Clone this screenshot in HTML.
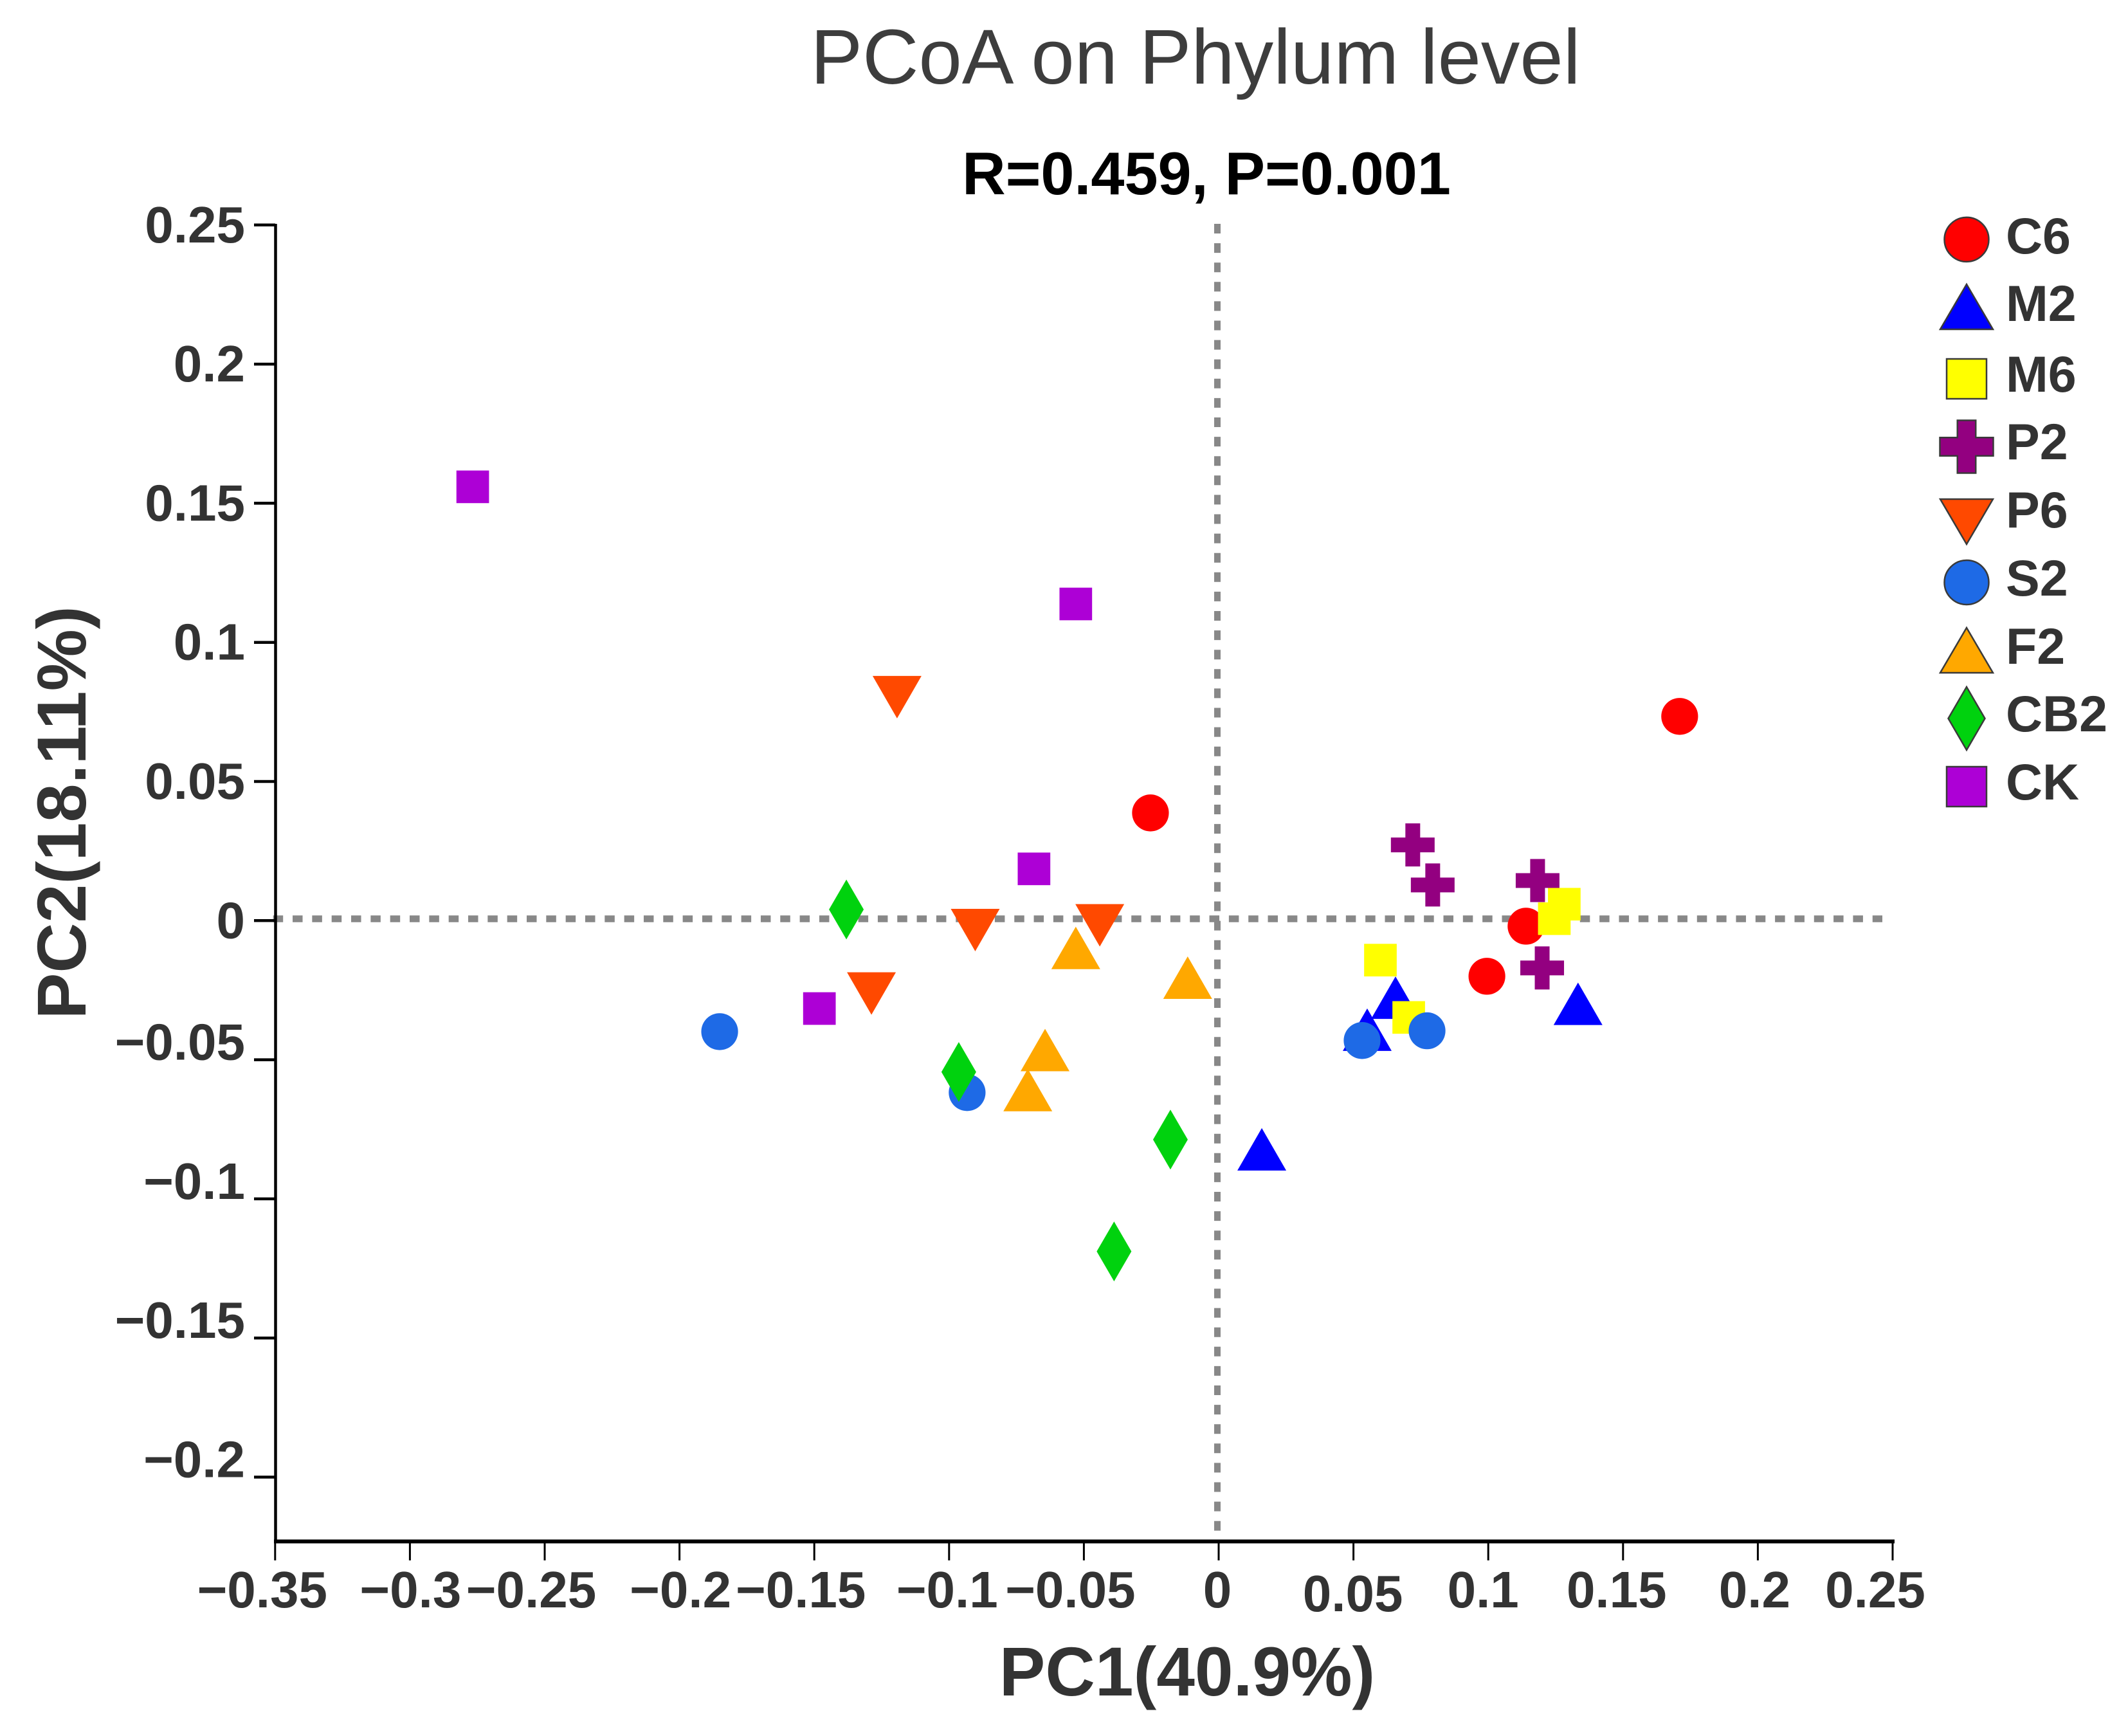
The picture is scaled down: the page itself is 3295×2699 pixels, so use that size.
<!DOCTYPE html>
<html lang="en">
<head>
<meta charset="utf-8">
<title>PCoA on Phylum level</title>
<style>
html,body{margin:0;padding:0;background:#fff;}
svg{display:block;}
text{font-family:"Liberation Sans",Arial,sans-serif;}
.b{font-weight:bold;fill:#333;}
</style>
</head>
<body>
<svg id="chart" xmlns="http://www.w3.org/2000/svg" width="3295" height="2699" viewBox="0 0 3295 2699">
  <rect x="0" y="0" width="3295" height="2699" fill="#fff"/>
  <text x="1859" y="130" font-size="121" fill="#3d3d3d" text-anchor="middle">PCoA on Phylum level</text>
  <text x="1876" y="302" font-size="93.6" font-weight="bold" fill="#000" text-anchor="middle">R=0.459, P=0.001</text>
  <text class="b" x="1846" y="2636" font-size="107.3" text-anchor="middle">PC1(40.9%)</text>
  <text class="b" x="133" y="1263.5" font-size="108" text-anchor="middle" transform="rotate(-90 133 1263.5)">PC2(18.11%)</text>
  <g id="guides"></g>
  <g id="marks"></g>
  <g id="axes"></g>
  <g id="legend"></g>
</svg>
<script>
const seriesNames = ["C6", "M2", "M6", "P2", "P6", "S2", "F2", "CB2", "CK"];
const c6X = [0.1710, -0.0253, 0.0995, 0.1140];
const c6Y = [0.0734, 0.0387, -0.0200, -0.0020];
const m2X = [0.1333, 0.0656, 0.0551, 0.0160];
const m2Y = [-0.0299, -0.0277, -0.0392, -0.0822];
const m6X = [0.0600, 0.0705, 0.1282, 0.1245];
const m6Y = [-0.0142, -0.0348, 0.0059, 0.0007];
const p2X = [0.0720, 0.0794, 0.1183, 0.1200];
const p2Y = [0.0272, 0.0128, 0.0144, -0.0170];
const p6X = [-0.0903, -0.0441, -0.1288, -0.1193];
const p6Y = [-0.0034, -0.0017, -0.0262, 0.0803];
const s2X = [-0.1851, -0.0933, 0.0532, 0.0773];
const s2Y = [-0.0399, -0.0618, -0.0431, -0.0396];
const f2X = [-0.0530, -0.0115, -0.0644, -0.0708];
const f2Y = [-0.0098, -0.0205, -0.0465, -0.0609];
const cb2X = [-0.1381, -0.0964, -0.0179, -0.0388];
const cb2Y = [0.0040, -0.0544, -0.0787, -0.1189];
const ckX = [-0.2767, -0.0530, -0.0685, -0.1481];
const ckY = [0.1559, 0.1138, 0.0186, -0.0316];
const xTickValues = [-0.35, -0.3, -0.25, -0.2, -0.15, -0.1, -0.05, 0, 0.05, 0.1, 0.15, 0.2, 0.25];
const xTickLabels = ["\u22120.35", "\u22120.3", "\u22120.25", "\u22120.2", "\u22120.15", "\u22120.1", "\u22120.05", "0", "0.05", "0.1", "0.15", "0.2", "0.25"];
const yTickValues = [0.25, 0.2, 0.15, 0.1, 0.05, 0, -0.05, -0.1, -0.15, -0.2];
const yTickLabels = ["0.25", "0.2", "0.15", "0.1", "0.05", "0", "\u22120.05", "\u22120.1", "\u22120.15", "\u22120.2"];

const NS = "http://www.w3.org/2000/svg";
function sx(v) { return 1895 + 4192 * v; }
function sy(v) { return 1431.3 - 4326 * v; }
function make(tag, parent) {
  const el = document.createElementNS(NS, tag);
  parent.appendChild(el);
  return el;
}
function drawShape(parent, kind, cx, cy, g, fill, stroke) {
  let el;
  if (kind === "circle") {
    el = make("ellipse", parent);
    el.setAttribute("cx", cx);
    el.setAttribute("cy", cy);
    el.setAttribute("rx", g.rx);
    el.setAttribute("ry", g.ry);
  } else if (kind === "square") {
    el = make("rect", parent);
    el.setAttribute("x", cx - g.s / 2);
    el.setAttribute("y", cy - g.s / 2);
    el.setAttribute("width", g.s);
    el.setAttribute("height", g.s);
  } else {
    el = make("polygon", parent);
    let pts = [];
    if (kind === "up") {
      pts = [[cx, cy - g.th / 2], [cx + g.tw / 2, cy + g.th / 2], [cx - g.tw / 2, cy + g.th / 2]];
    } else if (kind === "down") {
      pts = [[cx, cy + g.th / 2], [cx + g.tw / 2, cy - g.th / 2], [cx - g.tw / 2, cy - g.th / 2]];
    } else if (kind === "diamond") {
      pts = [[cx, cy - g.dh / 2], [cx + g.dw / 2, cy], [cx, cy + g.dh / 2], [cx - g.dw / 2, cy]];
    } else {
      const w = g.cw / 2, h = g.ch / 2, a = g.ca / 2;
      pts = [[cx - a, cy - h], [cx + a, cy - h], [cx + a, cy - a], [cx + w, cy - a], [cx + w, cy + a], [cx + a, cy + a],
             [cx + a, cy + h], [cx - a, cy + h], [cx - a, cy + a], [cx - w, cy + a], [cx - w, cy - a], [cx - a, cy - a]];
    }
    el.setAttribute("points", pts.map(function (p) { return p[0] + "," + p[1]; }).join(" "));
  }
  el.setAttribute("fill", fill);
  if (stroke) {
    el.setAttribute("stroke", stroke);
    el.setAttribute("stroke-width", "2.5");
  }
  return el;
}

function drawGuides() {
  const g = document.getElementById("guides");
  const h = make("line", g);
  
  
  h.setAttribute("x1", 424.7);
  h.setAttribute("x2", 2927);
  h.setAttribute("y1", sy(0) - 2.8);
  h.setAttribute("y2", sy(0) - 2.8);
  h.setAttribute("stroke", "#888");
  h.setAttribute("stroke-width", 10.5);
  h.setAttribute("stroke-dasharray", "15.5 14.83");
  const v = make("line", g);
  
  
  v.setAttribute("x1", sx(0) - 2);
  v.setAttribute("x2", sx(0) - 2);
  v.setAttribute("y1", 348);
  v.setAttribute("y2", 2396);
  v.setAttribute("stroke", "#888");
  v.setAttribute("stroke-width", 10);
  v.setAttribute("stroke-dasharray", "15 15.1");
}

function drawSeries() {
  const marks = document.getElementById("marks");
  const plotGeom = { rx: 28.6, ry: 28.7, s: 50.7, tw: 76, th: 66, dw: 54, dh: 93, cw: 68, ch: 67, ca: 23 };
  const kinds = ["circle", "up", "square", "cross", "down", "circle", "up", "diamond", "square"];
  const fills = ["#ff0000", "#0000ff", "#ffff00", "#930080", "#ff4900", "#1e6ae6", "#ffa800", "#00d20e", "#ad00d6"];
  const xs = [c6X, m2X, m6X, p2X, p6X, s2X, f2X, cb2X, ckX];
  const ys = [c6Y, m2Y, m6Y, p2Y, p6Y, s2Y, f2Y, cb2Y, ckY];
  seriesNames.forEach(function (name, i) {
    const group = make("g", marks);
    
    
    xs[i].forEach(function (xv, j) {
      const el = drawShape(group, kinds[i], sx(xv), sy(ys[i][j]), plotGeom, fills[i], null);
      
      
    });
  });

  const legend = document.getElementById("legend");
  const legGeom = { rx: 34.5, ry: 34.5, s: 62, tw: 82, th: 70, dw: 57, dh: 98, cw: 83, ch: 82, ca: 28.5 };
  const symbolRows = [372.4, 477, 589, 694.5, 811, 905.5, 1011, 1117, 1223];
  const labelRows = [394, 499, 609, 714, 820, 926, 1032, 1137, 1243];
  seriesNames.forEach(function (name, i) {
    const row = make("g", legend);
    
    
    const sym = drawShape(row, kinds[i], 3058, symbolRows[i], legGeom, fills[i], "#3a3a3a");
    
    
    const t = make("text", row);
    
    
    t.setAttribute("class", "b");
    t.setAttribute("x", 3119);
    t.setAttribute("y", labelRows[i]);
    t.setAttribute("font-size", 79);
    t.textContent = name;
  });
}

function drawAxes() {
  const axes = document.getElementById("axes");
  const xOffsets = [-20, 1, -21, 1.5, -21, -3, -21, -2, -1, -8, -10, -5, -27];
  const ya = make("line", axes);
  
  
  ya.setAttribute("x1", 428.5);
  ya.setAttribute("x2", 428.5);
  ya.setAttribute("y1", 348);
  ya.setAttribute("y2", 2398);
  ya.setAttribute("stroke", "#000");
  ya.setAttribute("stroke-width", 4.5);
  const xa = make("line", axes);
  
  
  xa.setAttribute("x1", 426);
  xa.setAttribute("x2", sx(0.25) + 3);
  xa.setAttribute("y1", 2396.5);
  xa.setAttribute("y2", 2396.5);
  xa.setAttribute("stroke", "#000");
  xa.setAttribute("stroke-width", 6);
  xTickValues.forEach(function (v, i) {
    const tk = make("line", axes);
    
    
    tk.setAttribute("x1", sx(v));
    tk.setAttribute("x2", sx(v));
    tk.setAttribute("y1", 2396);
    tk.setAttribute("y2", 2426);
    tk.setAttribute("stroke", "#000");
    tk.setAttribute("stroke-width", 3);
    const t = make("text", axes);
    
    
    t.setAttribute("class", "b");
    t.setAttribute("x", sx(v) + xOffsets[i]);
    t.setAttribute("y", xTickLabels[i] === "0.05" ? 2505 : 2499);
    t.setAttribute("font-size", 80);
    t.setAttribute("text-anchor", "middle");
    t.textContent = xTickLabels[i];
  });
  yTickValues.forEach(function (v, i) {
    const tk = make("line", axes);
    
    
    tk.setAttribute("x1", 395);
    tk.setAttribute("x2", 428);
    tk.setAttribute("y1", sy(v));
    tk.setAttribute("y2", sy(v));
    tk.setAttribute("stroke", "#000");
    tk.setAttribute("stroke-width", 4.5);
    const t = make("text", axes);
    
    
    t.setAttribute("class", "b");
    t.setAttribute("x", 381);
    t.setAttribute("y", sy(v) + (v < 0 ? 0 : 27));
    t.setAttribute("font-size", 80);
    t.setAttribute("text-anchor", "end");
    t.textContent = yTickLabels[i];
  });
}

drawGuides();
drawSeries();
drawAxes();
</script>
</body>
</html>
